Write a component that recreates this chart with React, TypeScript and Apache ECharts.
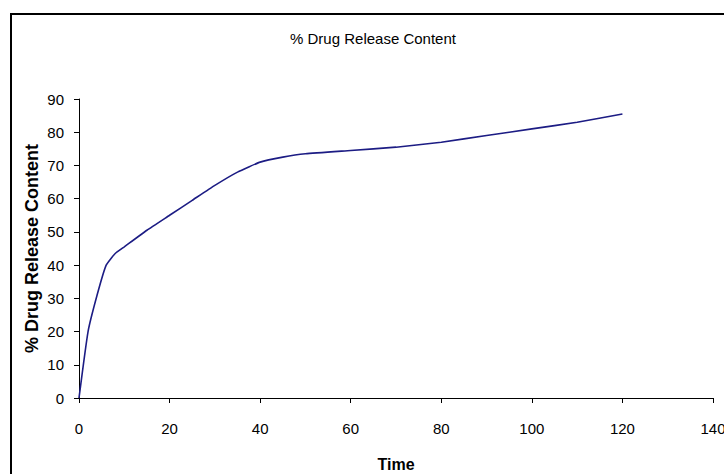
import React, { useEffect, useRef } from "react";
import * as echarts from "echarts";

const titleText = "% Drug Release Content";
const xAxisName = "Time";
const yAxisName = "% Drug Release Content";
const timePoints = [0, 2, 4, 6, 8, 10, 15, 20, 25, 30, 35, 40, 45, 50, 60, 70, 80, 90, 100, 110, 120];
const releaseValues = [0, 20, 31, 40, 43.5, 45.5, 50.5, 55, 59.5, 64, 68, 71, 72.5, 73.5, 74.5, 75.5, 77, 79, 81, 83, 85.5];

const sans = "'Liberation Sans', Arial, sans-serif";

export default function App() {
  const ref = useRef<HTMLDivElement>(null);
  useEffect(() => {
    if (!ref.current) return;
    const chart = echarts.init(ref.current, null, { renderer: "svg" });
    const data = timePoints.map((t, i) => [t, releaseValues[i]]);
    chart.setOption({
      animation: false,
      backgroundColor: "#ffffff",
      title: {
        text: titleText,
        left: 368,
        top: 26,
        textAlign: "center",
        textStyle: { fontFamily: sans, fontSize: 15, fontWeight: "normal", color: "#000" },
      },
      grid: { left: 79, right: 11, top: 99, bottom: 76, containLabel: false, outerBoundsMode: "none" },
      xAxis: {
        type: "value",
        min: 0,
        max: 140,
        interval: 20,
        name: xAxisName,
        nameLocation: "middle",
        nameGap: 58,
        nameMoveOverlap: false,
        nameTextStyle: { fontFamily: sans, fontSize: 16, fontWeight: "bold", color: "#000" },
        axisLine: { show: true, lineStyle: { color: "#000", width: 1 } },
        axisTick: { show: true, length: 5, lineStyle: { color: "#000" } },
        axisLabel: { margin: 23, fontFamily: sans, fontSize: 15, color: "#000" },
        splitLine: { show: false },
      },
      yAxis: {
        type: "value",
        min: 0,
        max: 90,
        interval: 10,
        name: yAxisName,
        nameLocation: "middle",
        nameGap: 38,
        nameRotate: 90,
        nameMoveOverlap: false,
        nameTextStyle: { fontFamily: sans, fontSize: 18, fontWeight: "bold", color: "#000" },
        axisLine: { show: true, lineStyle: { color: "#000", width: 1 } },
        axisTick: { show: true, length: 5, lineStyle: { color: "#000" } },
        axisLabel: { margin: 15, fontFamily: sans, fontSize: 15, color: "#000" },
        splitLine: { show: false },
      },
      graphic: [
        {
          type: "rect",
          z: -1,
          shape: { x: 11, y: 14, width: 760, height: 520 },
          style: { fill: "none", stroke: "#000", lineWidth: 2 },
        },
      ],
      series: [
        {
          type: "line",
          data,
          smooth: 0.15,
          showSymbol: false,
          lineStyle: { color: "#1c1c84", width: 1.6 },
        },
      ],
    });
    return () => chart.dispose();
  }, []);
  return (
    <div
      ref={ref}
      style={{ position: "absolute", left: 0, top: 0, width: 724, height: 474 }}
    />
  );
}
